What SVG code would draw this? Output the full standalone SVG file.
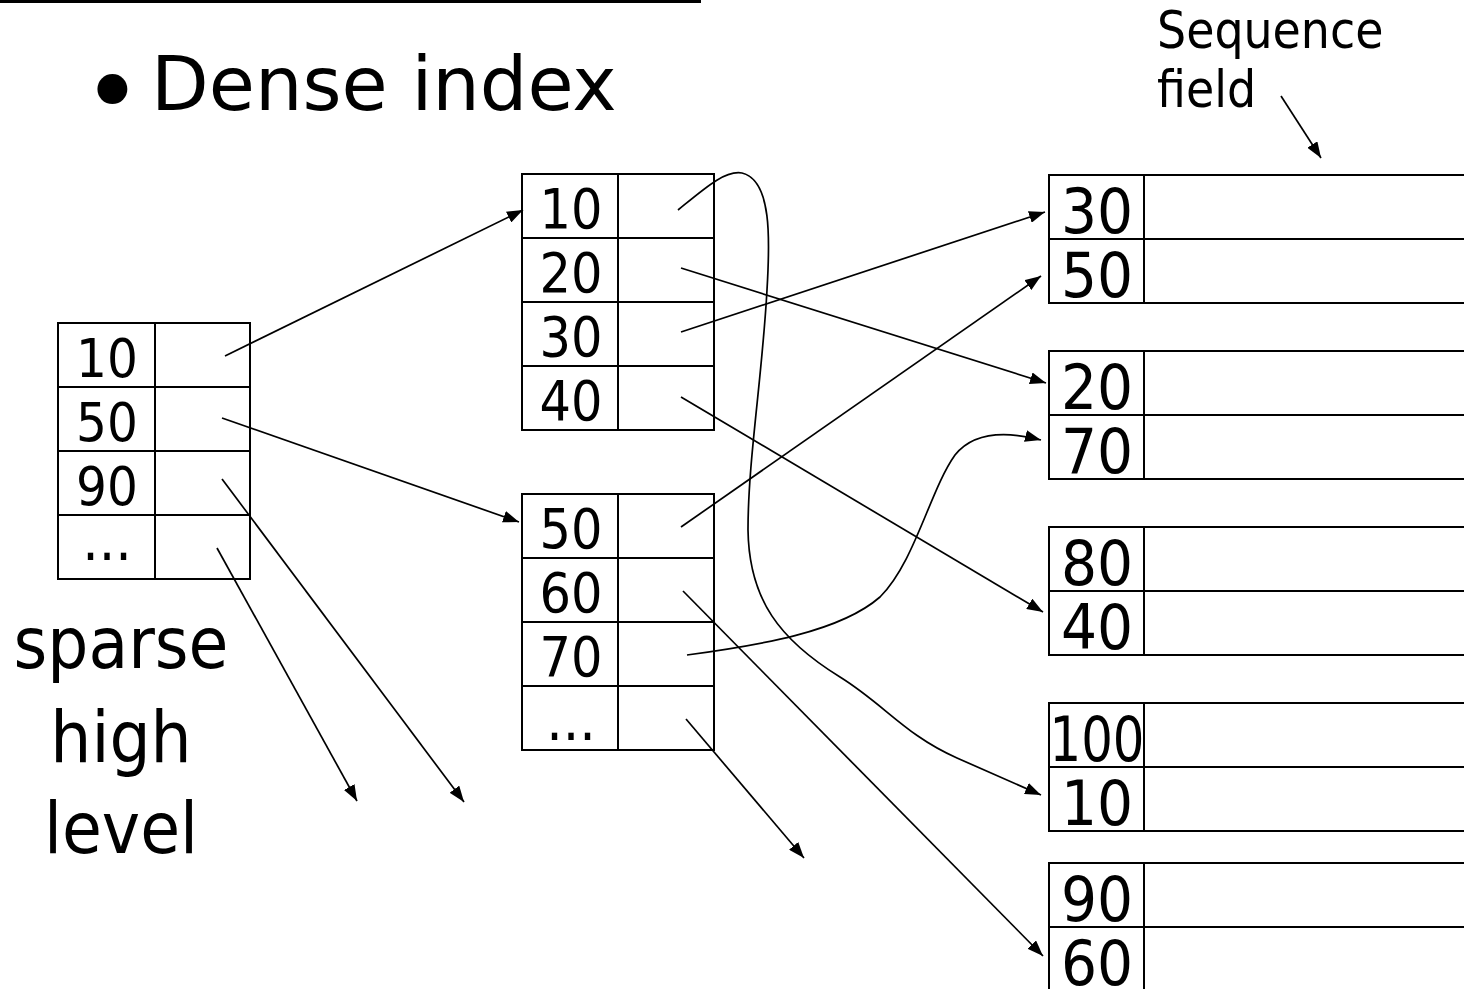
<svg xmlns="http://www.w3.org/2000/svg" width="1464" height="989" viewBox="0 0 1464 989">
<style>
text{font-family:"DejaVu Sans Condensed","DejaVu Sans",sans-serif;font-stretch:condensed;fill:#000}
.cell{fill:#fff;stroke:#000;stroke-width:2}
.ln{stroke:#000;stroke-width:2;fill:none}
.c{stroke:#000;stroke-width:1.7;fill:none;marker-end:url(#ah)}
.s{font-size:54px;text-anchor:middle}
.m{font-size:55px;text-anchor:middle}
.r{font-size:63px;text-anchor:middle}
.d{font-size:58px;text-anchor:middle}
.t{font-family:"DejaVu Sans",sans-serif;font-stretch:normal}
</style>
<defs>
<marker id="ah" markerUnits="userSpaceOnUse" markerWidth="17" markerHeight="12" refX="16" refY="6" orient="auto">
<path d="M0,0 L16,6 L0,12 z" fill="#000"/>
</marker>
</defs>
<rect width="1464" height="989" fill="#fff"/>
<rect x="0" y="0" width="701" height="3" fill="#000"/>
<g id="title">
<text class="t" x="82" y="128" style="font-size:103px">•</text>
<text class="t" x="151" y="110" style="font-size:75px">Dense index</text>
</g>
<g id="seqlabel">
<text x="1157" y="48" style="font-size:51px">Sequence</text>
<text x="1157" y="107" style="font-size:51px">field</text>
</g>
<g id="sparselabel" style="font-size:72px;text-anchor:middle">
<text x="121" y="668">sparse</text>
<text x="121" y="762">high</text>
<text x="121" y="853">level</text>
</g>
<g id="sparse">
<rect class="cell" x="58" y="323" width="192" height="256"/>
<path class="ln" d="M155,323V579M58,387H250M58,451H250M58,515H250"/>
<text class="s" x="107" y="377">10</text>
<text class="s" x="107" y="441">50</text>
<text class="s" x="107" y="505">90</text>
<text class="d" x="107" y="560">...</text>
</g>
<g id="dense1">
<rect class="cell" x="522" y="174" width="192" height="256"/>
<path class="ln" d="M618,174V430M522,238H714M522,302H714M522,366H714"/>
<text class="m" x="571" y="228">10</text>
<text class="m" x="571" y="292">20</text>
<text class="m" x="571" y="356">30</text>
<text class="m" x="571" y="420">40</text>
</g>
<g id="dense2">
<rect class="cell" x="522" y="494" width="192" height="256"/>
<path class="ln" d="M618,494V750M522,558H714M522,622H714M522,686H714"/>
<text class="m" x="571" y="548">50</text>
<text class="m" x="571" y="612">60</text>
<text class="m" x="571" y="676">70</text>
<text class="d" x="571" y="740">...</text>
</g>
<g id="block1">
<rect class="cell" x="1049" y="175" width="430" height="128"/>
<path class="ln" d="M1144,175V303M1049,239H1479"/>
<text class="r" x="1097" y="233">30</text>
<text class="r" x="1097" y="297">50</text>
</g>
<g id="block2">
<rect class="cell" x="1049" y="351" width="430" height="128"/>
<path class="ln" d="M1144,351V479M1049,415H1479"/>
<text class="r" x="1097" y="409">20</text>
<text class="r" x="1097" y="473">70</text>
</g>
<g id="block3">
<rect class="cell" x="1049" y="527" width="430" height="128"/>
<path class="ln" d="M1144,527V655M1049,591H1479"/>
<text class="r" x="1097" y="585">80</text>
<text class="r" x="1097" y="649">40</text>
</g>
<g id="block4">
<rect class="cell" x="1049" y="703" width="430" height="128"/>
<path class="ln" d="M1144,703V831M1049,767H1479"/>
<text class="r" x="1097" y="761" textLength="95" lengthAdjust="spacingAndGlyphs">100</text>
<text class="r" x="1097" y="825">10</text>
</g>
<g id="block5">
<rect class="cell" x="1049" y="863" width="430" height="128"/>
<path class="ln" d="M1144,863V991M1049,927H1479"/>
<text class="r" x="1097" y="921">90</text>
<text class="r" x="1097" y="985">60</text>
</g>
<g id="connectors">
<path class="c" d="M225,356L523,210"/>
<path class="c" d="M222,418L519,522"/>
<path class="c" d="M222,479L464,802"/>
<path class="c" d="M217,548L357,801"/>
<path class="c" d="M678,210C705,188 725,170 742,173C772,180 770,240 767,290C762,380 748,460 748,530C749,600 780,640 840,677C885,705 905,735 957,758L1041,795"/>
<path class="c" d="M681,268L1046,383"/>
<path class="c" d="M681,332L1045,212"/>
<path class="c" d="M681,397L1043,612"/>
<path class="c" d="M681,527L1041,276"/>
<path class="c" d="M683,591L1043,956"/>
<path class="c" d="M687,655C760,645 840,632 880,597C915,562 930,490 955,455C975,430 1010,432 1041,440"/>
<path class="c" d="M686,719L804,858"/>
<path class="c" d="M1281,96L1321,158"/>
</g>
</svg>
